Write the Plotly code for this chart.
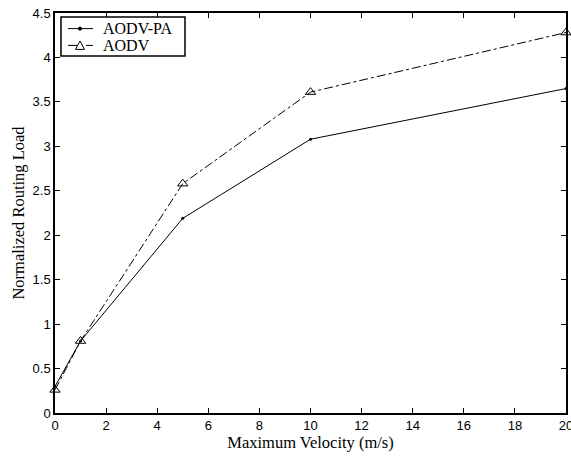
import plotly.graph_objects as go

velocity = [0, 1, 5, 10, 20]
aodv_pa = [0.30, 0.81, 2.19, 3.08, 3.65]
aodv = [0.26, 0.81, 2.58, 3.61, 4.28]
series_names = ["AODV-PA", "AODV"]

fig = go.Figure()
fig.add_trace(go.Scatter(x=velocity, y=aodv_pa, name=series_names[0], mode="lines+markers",
                         line=dict(color="black", width=1),
                         marker=dict(symbol="circle", size=3, color="black"), cliponaxis=False))
fig.add_trace(go.Scatter(x=velocity, y=aodv, name=series_names[1], mode="lines+markers",
                         line=dict(color="black", width=1, dash="dashdot"),
                         marker=dict(symbol="triangle-up-open", size=9, color="black", line=dict(width=1)),
                         cliponaxis=False))

axis_common = dict(showgrid=False, zeroline=False, showline=True, linecolor="black", linewidth=1.5,
                   mirror="ticks", ticks="inside", ticklen=5, tickcolor="black", automargin=False,
                   ticklabeloverflow="allow",
                   tickfont=dict(family="Liberation Sans, Arial", size=13, color="black"))

# Compact legend box (paper coordinates), drawn to match the reference's tight spacing
lg_font = dict(family="Liberation Serif, Times New Roman", size=16, color="black")
row1, row2 = 0.961, 0.919
shapes = [
    dict(type="rect", xref="paper", yref="paper", x0=0.0117, x1=0.2544, y0=0.8925, y1=0.99,
         line=dict(color="black", width=1.5), fillcolor="white", layer="above"),
    dict(type="line", xref="paper", yref="paper", x0=0.0254, x1=0.0744, y0=row1, y1=row1,
         line=dict(color="black", width=1)),
    dict(type="circle", xref="paper", yref="paper", x0=0.0489 - 0.003, x1=0.0489 + 0.003,
         y0=row1 - 0.004, y1=row1 + 0.004, line=dict(color="black", width=1), fillcolor="black"),
    dict(type="line", xref="paper", yref="paper", x0=0.0254, x1=0.0744, y0=row2, y1=row2,
         line=dict(color="black", width=1, dash="dashdot")),
    dict(type="path", xref="paper", yref="paper",
         path=f"M 0.0401 {row2 - 0.010} L 0.0577 {row2 - 0.010} L 0.0489 {row2 + 0.011} Z",
         line=dict(color="black", width=1), fillcolor="white"),
]
annotations = [
    dict(xref="paper", yref="paper", x=0.092, y=row1, xanchor="left", yanchor="middle",
         text=series_names[0], showarrow=False, font=lg_font, borderpad=0),
    dict(xref="paper", yref="paper", x=0.092, y=row2, xanchor="left", yanchor="middle",
         text=series_names[1], showarrow=False, font=lg_font, borderpad=0),
]

fig.update_layout(
    width=571, height=458,
    margin=dict(l=55, r=5, t=13, b=45),
    plot_bgcolor="white", paper_bgcolor="white",
    xaxis=dict(range=[0, 20], dtick=2,
               title=dict(text="Maximum Velocity (m/s)", standoff=2,
                          font=dict(family="Liberation Serif, Times New Roman", size=16.5, color="black")),
               **axis_common),
    yaxis=dict(range=[0, 4.5], dtick=0.5,
               title=dict(text="Normalized Routing Load", standoff=4,
                          font=dict(family="Liberation Serif, Times New Roman", size=16.5, color="black")),
               **axis_common),
    showlegend=False,
    shapes=shapes,
    annotations=annotations,
)
fig.write_html("out.html", config={"displayModeBar": False},
               post_script="document.body.style.margin='0';document.body.style.overflow='hidden';")
